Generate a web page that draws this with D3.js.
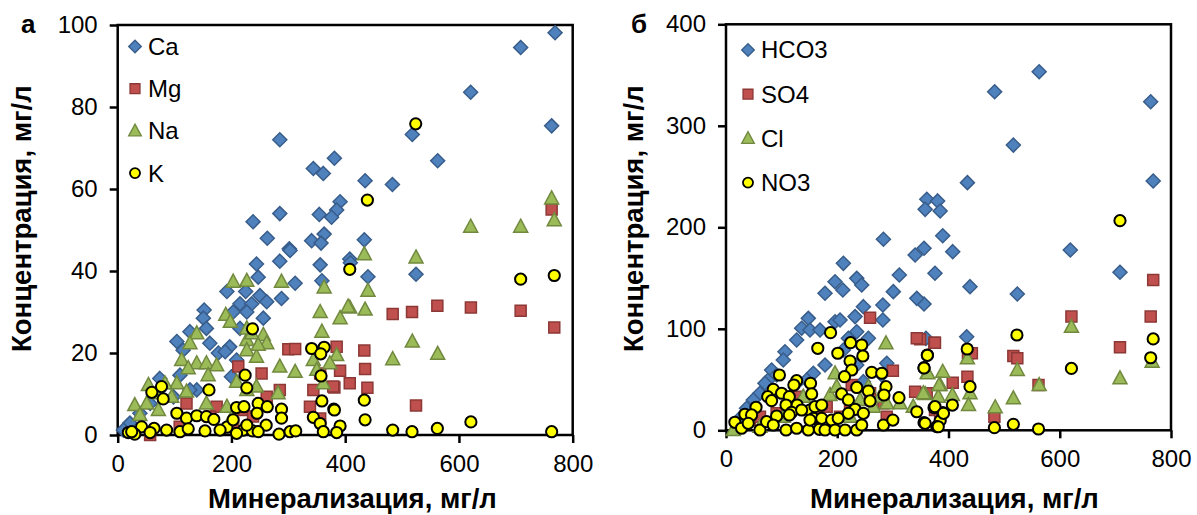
<!DOCTYPE html>
<meta charset="utf-8">
<style>
  body { margin: 0; background: #fff; }
  text { font-family: "Liberation Sans", Arial, sans-serif; fill: #000; }
  .tick text { font-size: 24px; }
  .title { font-size: 27.5px; font-weight: bold; }
  .plabel { font-size: 26px; font-weight: bold; }
  .legend text { font-size: 24px; }
</style>
<svg width="1197" height="515"></svg>
<script src="https://d3js.org/d3.v7.min.js"></script>
<script>
  // panel а: cations
  var ca = [[769,98.1],[708.5,94.5],[620.6,83.6],[763,75.4],[518,73.3],[562.6,66.9],[285,72],[381,67.5],[344,65],[361.5,63.8],[435,62],[483,61.1],[391,56.9],[385,54.9],[376,53.1],[354.5,53.8],[285,54],[433.6,47.6],[363,49],[341,47.4],[357.5,46.8],[301.7,45.4],[408,42.9],[409,42],[440,38.6],[524.5,39.2],[244,41.7],[285,42.4],[303,45],[247,38.5],[192,35],[225,35],[250,34],[262,32.5],[215,32],[235.6,32],[288,33.3],[312,37],[356,41.5],[359,37.6],[152,30.5],[150.6,28.5],[203,30],[227,30],[256,28.5],[215,26],[127,25.2],[156,26],[162,22.4],[177,20],[197,21.5],[189,20.3],[104,22.8],[115,20.7],[209,18.3],[200,14.2],[74,13.8],[109.5,14.6],[139,11],[57,7.7],[39,5.3],[21.5,2.9],[10,1.2],[98,9.3],[127,11],[263,48],[238,52]]
  var mg = [[763,55],[483.5,29.5],[517.5,30],[562,31.5],[621,31.1],[708.5,30.3],[767.6,26.2],[385,21.5],[433.6,20.6],[391,15.7],[435,16.1],[408,12.6],[381,11.6],[439,11.5],[524.5,7.2],[300,20.9],[312,21],[379,11.8],[344,11],[356,15],[212,16.7],[253,15],[262,9.3],[285,11],[174,6.9],[121,7.7],[221,6.1],[338,6.9],[356,4],[57,0],[238,4.5],[109,2],[162,4.5],[203,2.9]]
  var na = [[763,57.7],[767.6,52.4],[620.6,50.8],[708.5,50.8],[433.6,44.1],[524.5,43.3],[440,35.2],[408,31.1],[435,30.6],[391,28.5],[518,22.8],[483.5,18.5],[562.6,19.8],[385,19.5],[373,17.5],[203,37.4],[227,37.6],[288,37.4],[363,36],[356,30],[405,31.3],[190,29.3],[198,27.6],[139,24.8],[127,22.4],[359,25.2],[227,23.2],[256,24.4],[262,22.4],[112.5,18.3],[139,17.5],[156,17.5],[174,17],[227,20.7],[244,19.1],[285,16.7],[312,15.4],[344,18.3],[124,16.3],[159,14.6],[104,12.6],[83,12.6],[121,10.6],[54,12.2],[30,7.3],[51,7.7],[71.5,6.1],[39,4.9],[227,11],[192,6.9],[244,11.8],[282,10.2],[209,13],[350,15.9],[361.5,12.6],[247,22],[235.6,24.8],[227,26],[200,4.1],[156,7.7],[95,9.3],[74,10.2]]
  var k = [[524,75.9],[439,57.3],[408,40.4],[708.5,38],[767.6,38.9],[380,6.3],[433.6,8.5],[435,3.7],[391,2.2],[385,0.6],[483.5,1.2],[517.5,0.8],[562,1.6],[621,3.2],[763,0.8],[237,25.9],[341,21.1],[363,21.4],[357,19.8],[224,14.6],[227,11.5],[357.5,14.4],[359,8.3],[381,6.1],[60,10.4],[77,11.8],[80,8.8],[160.5,11],[209,6.7],[222,6.9],[247,7.7],[263,6.9],[288,6.3],[245,5.3],[104,5.3],[121,4.1],[139,4.7],[156,4.5],[169,3.8],[288,4.1],[344,4.3],[356,2.8],[42,2],[64,1.6],[18.7,0.6],[30,0.2],[86,1.2],[109.5,0.8],[124,1.5],[153.5,1],[192,1.9],[203,3.7],[221,1.2],[237,1],[261,2.4],[283.6,0.2],[303,0.8],[313,1],[361.5,0.8],[180,1.2],[247,0.8],[57,0.6],[24.6,0.8],[227,2.4],[209,0.4]]

  // panel б: anions
  var hco3 = [[563,353.3],[483,333.6],[763.5,323.7],[516.6,281],[434,244],[768,245.6],[361,227.6],[380.5,226],[358,217.7],[385,216],[389.6,191.7],[356,179.3],[340,172.7],[407.6,176],[619,177.6],[283,188.2],[211,164.5],[708.3,155.7],[375.7,154.7],[438.7,141.5],[523.7,134.3],[356,124.4],[359.5,90.6],[432.7,92.2],[178,135],[196,146.4],[210,138.2],[235,149.7],[244,143.2],[311.6,153],[300.8,136.6],[343,130],[148,110.3],[136,100.5],[151,98.8],[169,98.8],[127,89],[106,77.4],[103,69.3],[196,107],[205,108.7],[232,112],[247,121.8],[282,123.4],[282,108.7],[235,97.1],[256,90.6],[220,90.6],[211,79.1],[157,56.2],[145,49.6],[79,51.2],[70,46.3],[82,59.4],[91,54.5],[61,36.5],[49,29.9],[37,21.7],[25,11.8],[289,66],[280,54.5],[235,64.3],[247,47.9],[178,64.3],[127,46.3]]
  var so4 = [[768,148],[763.5,112],[621,112],[708.3,81.8],[516.6,73.2],[523.7,70.9],[435,75.9],[442,75.9],[374.5,86.3],[349,89.7],[434,52.8],[407.6,46.9],[561.8,44.6],[482.5,13.4],[356,36.5],[375.7,20],[385,15],[259,111],[343,90.6],[375.7,86.3],[300,58.7],[340,38],[360.8,36.5],[226,44.6],[259,36.5],[283,26.6],[181,23.3],[223,20],[127,33.1],[109,23.3],[91,16.7],[61,13.4],[43,10.1],[163,13.4],[289,13.4],[205,13.4]]
  var cl = [[621,102],[766,67.6],[708.3,51.2],[523.7,59.4],[563,44.6],[516.6,31.5],[484,22.7],[434,70.9],[389.6,57.7],[385,44.6],[407,34.8],[438.7,36.5],[436,24.9],[362,56.7],[358,35.8],[381.6,33.1],[287.6,85.7],[362.6,56.2],[383,44.6],[354.8,36.5],[336.6,23.3],[196,56.2],[187,34.8],[199,43],[256,43],[276.8,33.1],[289,26.6],[312.8,26.6],[139,33.1],[151,20],[103,13.4],[13,0.3],[61,3.5],[223,13.4],[241,29.9],[265,23.3]]
  var no3 = [[708.3,206.5],[523,93.9],[768,90],[763.5,71.5],[621,61],[433.7,80.1],[438.7,43],[362,74.2],[356,61.7],[407,24.9],[374,22.3],[389.6,17.4],[385,9.5],[356,7.5],[378.8,3.6],[482.5,2.6],[516.6,5.9],[561.8,1.3],[188,96.2],[165,80.8],[201,75.9],[224,86.3],[244,84],[246,73.2],[223,68.3],[226,59.4],[213,52.8],[262,57.1],[280,56.2],[287.6,43],[284,34.8],[311,32.1],[362,73.9],[356,61.4],[96,54.5],[127,48.9],[122,44.6],[152,46.3],[154,35.8],[85,40.4],[100,36.5],[113.8,33.1],[75,33.1],[82,29.2],[107.9,24.9],[128,24.9],[91,14.1],[118,17.7],[151,20],[160,23.3],[157,11.8],[172,11.8],[190,10.1],[201.7,11.8],[208,35.8],[220,29.9],[235,42.2],[256,38.7],[259,28.9],[232,20.7],[247,16.7],[220,16.7],[54,22.7],[34,15.8],[46,15.1],[16,7.9],[28,2],[40,6.9],[61,0.3],[73,8.5],[85,5.2],[108,0.3],[127,2],[148,0.3],[168,1],[178,0.3],[196,0.3],[214,0.3],[235,0.3],[244,5.2],[283,5.2],[300,10.1],[151,10.1],[343,18.3],[358,6.9],[375.7,23.3],[391,16.7],[381.6,3.5],[113.8,15.1],[136,20],[172,24.9]]

  var xTicks = [0, 200, 400, 600, 800]
  var yTicksA = [0, 20, 40, 60, 80, 100]
  var yTicksB = [0, 100, 200, 300, 400]

  var styles = {
    diamond: { fill: "#4F81BD", stroke: "#385D8A", sw: 1.5 },
    square: { fill: "#C0504D", stroke: "#8C3836", sw: 1.5 },
    triangle: { fill: "#9BBB59", stroke: "#71893F", sw: 1.5 },
    circle: { fill: "#FFFF00", stroke: "#000", sw: 2 }
  }

  function markerPath(type) {
    if (type === "diamond") return "M0,-7L7,0L0,7L-7,0Z"
    if (type === "square") return "M-5.5,-5.5H5.5V5.5H-5.5Z"
    if (type === "triangle") return "M0,-7.5L7,5.5L-7,5.5Z"
    return "M5.6,0A5.6,5.6 0 1,1 -5.6,0A5.6,5.6 0 1,1 5.6,0Z"
  }

  var svg = d3.select("svg")

  function panel(opt) {
    var x = d3.scaleLinear().domain([0, 800]).range([opt.left, opt.right])
    var y = d3.scaleLinear().domain([0, opt.ymax]).range([opt.bottom, opt.top])
    var g = svg.append("g")

    // frame
    g.append("rect")
      .attr("x", opt.left).attr("y", opt.top)
      .attr("width", opt.right - opt.left).attr("height", opt.bottom - opt.top)
      .attr("fill", "none").attr("stroke", "#000").attr("stroke-width", 2.5)

    var xAxis = g.append("g")
      .attr("transform", "translate(0," + opt.bottom + ")")
      .call(d3.axisBottom(x).tickValues(xTicks).tickSize(8).tickPadding(12).tickFormat(d3.format("d")))
    var yAxis = g.append("g")
      .attr("transform", "translate(" + opt.left + ",0)")
      .call(d3.axisLeft(y).tickValues(opt.yTicks).tickSize(8).tickPadding(12).tickFormat(d3.format("d")))
    g.selectAll(".domain").remove()
    g.selectAll(".tick line").attr("stroke", "#000").attr("stroke-width", 2.5)
    g.selectAll(".tick text").attr("font-family", null).attr("font-size", null)
    xAxis.selectAll(".tick text").attr("dy", "0.71em")

    // series
    opt.series.forEach(function (s) {
      var st = styles[s.type]
      g.append("g").selectAll("path")
        .data(s.data)
        .join("path")
        .attr("d", markerPath(s.type))
        .attr("transform", d => "translate(" + x(d[0]) + "," + y(d[1]) + ")")
        .attr("fill", st.fill).attr("stroke", st.stroke).attr("stroke-width", st.sw)
    })

    // legend
    var lg = g.append("g").attr("class", "legend")
    opt.series.forEach(function (s, i) {
      var st = styles[s.type]
      var ly = opt.legendY + i * opt.legendStep
      lg.append("path")
        .attr("d", markerPath(s.type))
        .attr("transform", "translate(" + opt.legendX + "," + ly + ") scale(0.9)")
        .attr("fill", st.fill).attr("stroke", st.stroke).attr("stroke-width", st.sw)
      lg.append("text")
        .attr("x", opt.legendX + 13).attr("y", ly).attr("dy", "0.35em")
        .text(s.name)
    })

    // titles
    g.append("text").attr("class", "title")
      .attr("x", opt.xtitleX).attr("y", 508)
      .text("Минерализация, мг/л")
    g.append("text").attr("class", "title")
      .attr("transform", "translate(" + opt.ytitleX + "," + opt.ytitleY + ") rotate(-90)")
      .text("Концентрация, мг/л")
    g.append("text").attr("class", "plabel")
      .attr("x", opt.labelX).attr("y", 33)
      .text(opt.label)
  }

  panel({
    left: 117.7, right: 572.7, top: 25, bottom: 435, ymax: 100, yTicks: yTicksA,
    legendX: 135, legendY: 46.5, legendStep: 42.2,
    xtitleX: 208, ytitleX: 31, ytitleY: 352, labelX: 21, label: "а",
    series: [
      { name: "Ca", type: "diamond", data: ca },
      { name: "Mg", type: "square", data: mg },
      { name: "Na", type: "triangle", data: na },
      { name: "K", type: "circle", data: k }
    ]
  })

  panel({
    left: 726, right: 1171, top: 24.3, bottom: 430.3, ymax: 400, yTicks: yTicksB,
    legendX: 748, legendY: 50, legendStep: 44.2,
    xtitleX: 810, ytitleX: 643, ytitleY: 352, labelX: 631, label: "б",
    series: [
      { name: "HCO3", type: "diamond", data: hco3 },
      { name: "SO4", type: "square", data: so4 },
      { name: "Cl", type: "triangle", data: cl },
      { name: "NO3", type: "circle", data: no3 }
    ]
  })
</script>
